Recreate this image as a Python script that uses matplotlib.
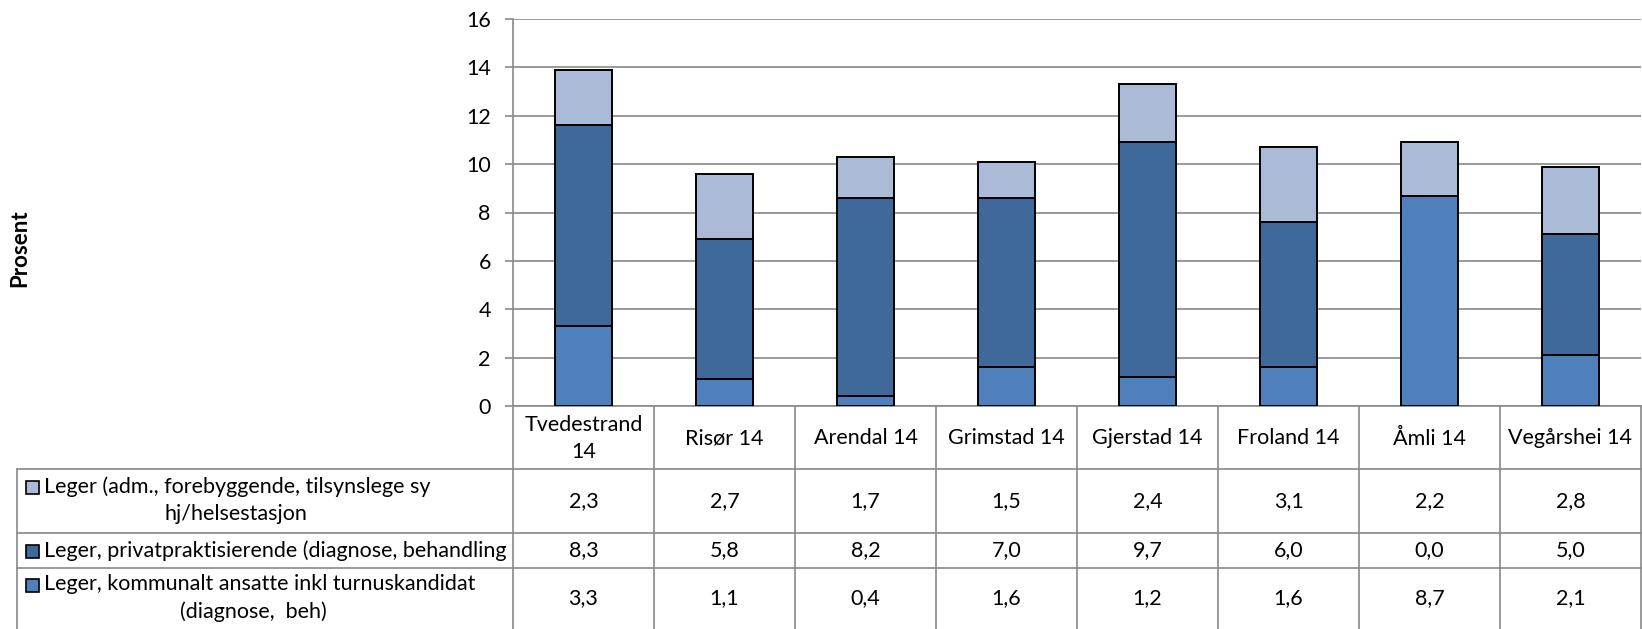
import numpy as np
import matplotlib
matplotlib.use("Agg")
import matplotlib.pyplot as plt

plt.rcParams['font.family'] = ['Lato', 'DejaVu Sans']

# kommuner og andel leger (prosent)
kommuner = ["Tvedestrand\n14", "Risør 14", "Arendal 14", "Grimstad 14",
            "Gjerstad 14", "Froland 14", "Åmli 14", "Vegårshei 14"]
adm = [2.3, 2.7, 1.7, 1.5, 2.4, 3.1, 2.2, 2.8]
privat = [8.3, 5.8, 8.2, 7.0, 9.7, 6.0, 0.0, 5.0]
kommunalt = [3.3, 1.1, 0.4, 1.6, 1.2, 1.6, 8.7, 2.1]

serier = [
    ("Leger (adm., forebyggende, tilsynslege sy", "hj/helsestasjon", adm, "#AABAD7"),
    ("Leger, privatpraktisierende (diagnose, behandling", None, privat, "#3F699B"),
    ("Leger, kommunalt ansatte inkl turnuskandidat", "(diagnose,  beh)", kommunalt, "#4F80BC"),
]

W, H = 1642, 629
GRID = "#898989"
FS = 15.5
# plassering i piksler
x0, x1 = 513, 1641
y_top, y_axis = 19, 406
rad_grenser = [406, 469, 533, 568, 629]
tab_venstre = 17

fig = plt.figure(figsize=(W / 100, H / 100), dpi=100)
ax = fig.add_axes([x0 / W, 1 - y_axis / H, (x1 - x0) / W, (y_axis - y_top) / H])

n = len(kommuner)
x = np.arange(n)
bunn = np.zeros(n)
for navn, _, verdier, farge in reversed(serier):
    ax.bar(x, verdier, width=0.4, bottom=bunn, color=farge,
           edgecolor="black", linewidth=1.4, zorder=3)
    bunn += np.array(verdier)

ax.set_xlim(-0.5, n - 0.5)
ax.set_ylim(0, 16)
ax.set_yticks(range(0, 17, 2))
ax.set_xticks([])
ax.yaxis.grid(True, color=GRID, linewidth=1.2)
ax.tick_params(axis="y", length=6, width=1.2, color=GRID, labelsize=FS, pad=10)
for s in ["top", "right"]:
    ax.spines[s].set_visible(False)
for s in ["left", "bottom"]:
    ax.spines[s].set_color(GRID)
    ax.spines[s].set_linewidth(1.2)

# tabell under diagrammet, tegnet i pikselkoordinater
tax = fig.add_axes([0, 0, 1, 1], zorder=-1)
tax.set_xlim(0, W)
tax.set_ylim(H, 0)
tax.axis("off")

kol = np.linspace(x0, x1, n + 1)
for k in kol:
    tax.plot([k, k], [rad_grenser[0], H], color=GRID, lw=1.2)
tax.plot([tab_venstre, tab_venstre], [rad_grenser[1], H], color=GRID, lw=1.2)
for y in rad_grenser[1:4]:
    tax.plot([tab_venstre, W], [y, y], color=GRID, lw=1.2)

senter = (kol[:-1] + kol[1:]) / 2
for cx, navn in zip(senter, kommuner):
    tax.text(cx, (rad_grenser[0] + rad_grenser[1]) / 2 + 1, navn, ha="center",
             va="center", fontsize=FS, linespacing=1.42)

andre_linje_x = {0: 236, 2: 253}
for r, (linje1, linje2, verdier, farge) in enumerate(serier):
    ytop, ybot = rad_grenser[r + 1], rad_grenser[r + 2]
    ym = (ytop + ybot) / 2
    y1 = ym - 14 if linje2 else ym
    tax.add_patch(plt.Rectangle((26, y1 - 6), 13, 13, facecolor=farge,
                                edgecolor="black", lw=1.2))
    tax.text(44, y1, linje1, ha="left", va="center", fontsize=FS)
    if linje2:
        tax.text(andre_linje_x[r], y1 + 27, linje2, ha="center", va="center", fontsize=FS)
    for cx, v in zip(senter, verdier):
        tax.text(cx, ym, f"{v:.1f}".replace(".", ","), ha="center",
                 va="center", fontsize=FS)

fig.text(20 / W, 1 - 248 / H, "Prosent", rotation=90, ha="center", va="center",
         fontsize=16, fontweight="bold")

fig.savefig("out.png", dpi=100)
